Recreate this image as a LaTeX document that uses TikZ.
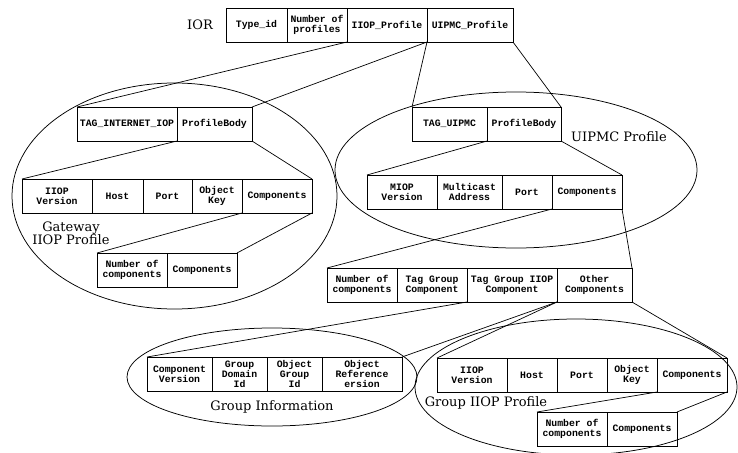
\documentclass[tikz,border=0pt]{standalone}
\usepackage{fontspec}
\setmainfont{DejaVu Serif}
\setmonofont{Liberation Mono}
\usetikzlibrary{positioning}

\tikzset{
  field/.style={draw, rectangle, line width=0.9pt, outer sep=0pt, inner xsep=2pt, inner ysep=0pt,
    minimum height=34pt, align=center, font=\ttfamily\bfseries\fontsize{9.8}{10}\selectfont},
  link/.style={line width=0.7pt},
  group/.style={line width=0.75pt},
  title/.style={inner sep=0pt, align=center, font=\fontsize{13}{13}\selectfont}
}

\begin{document}
\begin{tikzpicture}[x=1pt, y=-1pt]
\useasboundingbox (0,0) rectangle (738,452);

% profile groups
\draw[group] (174.5,196) ellipse [x radius=162.5pt, y radius=113pt];
\draw[group] (516,170) ellipse [x radius=181pt, y radius=78pt];
\draw[group] (272,377) ellipse [x radius=145pt, y radius=49pt];
\draw[group] (576,387) ellipse [x radius=161pt, y radius=68pt];

% IOR
\node[field, minimum width=61pt, anchor=north west] (typeid) at (226,8) {Type\_id};
\node[field, minimum width=60pt, right=0pt of typeid] (nprof) {Number of\\profiles};
\node[field, minimum width=80pt, right=0pt of nprof] (iiopprof) {IIOP\_Profile};
\node[field, minimum width=86pt, right=0pt of iiopprof] (uipmcprof) {UIPMC\_Profile};
\node[title, left=13pt of typeid] (ior) {IOR};

% gateway IIOP profile
\node[field, minimum width=100pt, anchor=north west] (taginet) at (77,107) {TAG\_INTERNET\_IOP};
\node[field, minimum width=75pt, right=0pt of taginet] (gwbody) {ProfileBody};
\node[field, minimum width=70pt, anchor=north west] (gwver) at (22,179) {IIOP\\Version};
\node[field, minimum width=51pt, right=0pt of gwver] (gwhost) {Host};
\node[field, minimum width=49pt, right=0pt of gwhost] (gwport) {Port};
\node[field, minimum width=50pt, right=0pt of gwport] (gwkey) {Object\\Key};
\node[field, minimum width=70pt, right=0pt of gwkey] (gwcomp) {Components};
\node[field, minimum width=70pt, anchor=north west] (gwnum) at (97,253) {Number of\\components};
\node[field, minimum width=70pt, right=0pt of gwnum] (gwlist) {Components};
\node[title] (gwtitle) at (71,233) {Gateway\\IIOP Profile};

% UIPMC profile
\node[field, minimum width=75pt, anchor=north west] (taguipmc) at (412,107) {TAG\_UIPMC};
\node[field, minimum width=74pt, right=0pt of taguipmc] (ubody) {ProfileBody};
\node[field, minimum width=70pt, anchor=north west] (uver) at (367,175) {MIOP\\Version};
\node[field, minimum width=65pt, right=0pt of uver] (uaddr) {Multicast\\Address};
\node[field, minimum width=50pt, right=0pt of uaddr] (uport) {Port};
\node[field, minimum width=70pt, right=0pt of uport] (ucomp) {Components};
\node[title] (utitle) at (619,137) {UIPMC Profile};

\node[field, minimum width=70pt, anchor=north west] (unum) at (327,268) {Number of\\components};
\node[field, minimum width=70pt, right=0pt of unum] (taggrp) {Tag Group\\Component};
\node[field, minimum width=90pt, right=0pt of taggrp] (taggiiop) {Tag Group IIOP\\Component};
\node[field, minimum width=75pt, right=0pt of taggiiop] (other) {Other\\Components};

% group information
\node[field, minimum width=65pt, anchor=north west] (gcver) at (147,357) {Component\\Version};
\node[field, minimum width=55pt, right=0pt of gcver] (gdom) {Group\\Domain\\Id};
\node[field, minimum width=55pt, right=0pt of gdom] (gobj) {Object\\Group\\Id};
\node[field, minimum width=80pt, right=0pt of gobj] (gref) {Object\\Reference\\ersion};
\node[title] (gtitle) at (272,407) {Group Information};

% group IIOP profile
\node[field, minimum width=70pt, anchor=north west] (giver) at (437,358) {IIOP\\Version};
\node[field, minimum width=50pt, right=0pt of giver] (gihost) {Host};
\node[field, minimum width=50pt, right=0pt of gihost] (giport) {Port};
\node[field, minimum width=50pt, right=0pt of giport] (gikey) {Object\\Key};
\node[field, minimum width=70pt, right=0pt of gikey] (gicomp) {Components};
\node[field, minimum width=70pt, anchor=north west] (ginum) at (537,412) {Number of\\components};
\node[field, minimum width=70pt, right=0pt of ginum] (gilist) {Components};
\node[title] (gititle) at (486,403) {Group IIOP Profile};

% expansions
\draw[link] (iiopprof.south west) -- (taginet.north west);
\draw[link] (iiopprof.south east) -- (gwbody.north east);
\draw[link] (uipmcprof.south west) -- (taguipmc.north west);
\draw[link] (uipmcprof.south east) -- (ubody.north east);
\draw[link] (gwbody.south west) -- (gwver.north west);
\draw[link] (gwbody.south east) -- (gwcomp.north east);
\draw[link] (gwcomp.south west) -- (gwnum.north west);
\draw[link] (gwcomp.south east) -- (gwlist.north east);
\draw[link] (ubody.south west) -- (uver.north west);
\draw[link] (ubody.south east) -- (ucomp.north east);
\draw[link] (ucomp.south west) -- (unum.north west);
\draw[link] (ucomp.south east) -- (other.north east);
\draw[link] (taggiiop.south west) -- (gcver.north west);
\draw[link] (taggiiop.south east) -- (gref.north east);
\draw[link] (other.south west) -- (giver.north west);
\draw[link] (other.south east) -- (gicomp.north east);
\draw[link] (gicomp.south west) -- (ginum.north west);
\draw[link] (gicomp.south east) -- (gilist.north east);
\end{tikzpicture}
\end{document}
